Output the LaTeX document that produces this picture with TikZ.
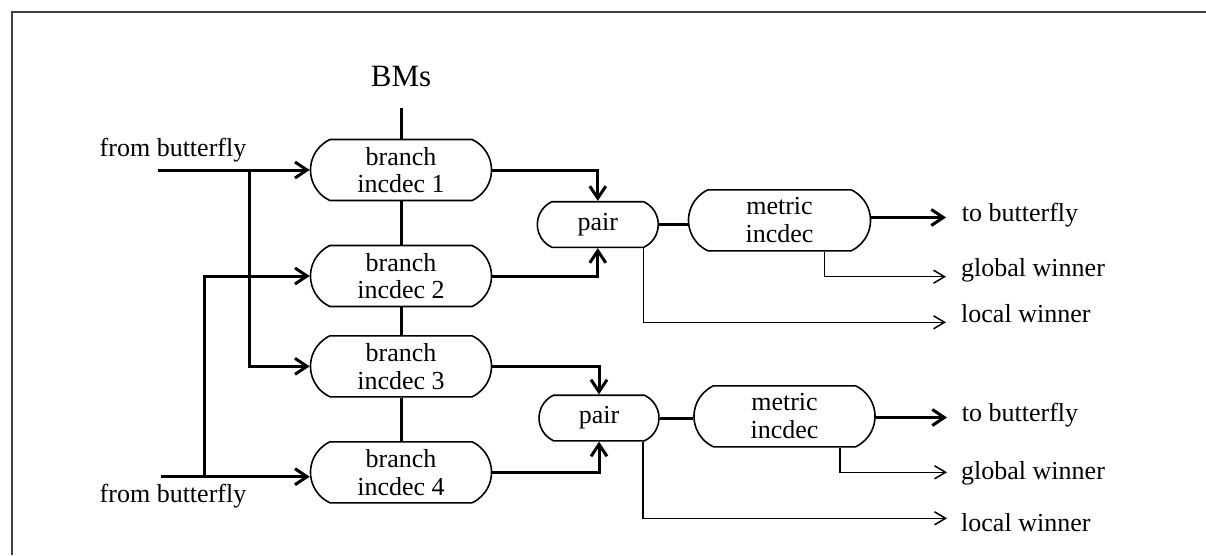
\documentclass[tikz,border=0pt]{standalone}
\usepackage{fontspec}
\setmainfont{Liberation Serif}
\usetikzlibrary{arrows.meta,shapes.misc}
\begin{document}
\begin{tikzpicture}[x=1pt,y=-1pt,
  every node/.style={font=\fontsize{26}{27.7}\selectfont},
  block/.style={draw, line width=1.6pt, rounded rectangle,
    rounded rectangle arc length=130, minimum width=181pt,
    minimum height=61pt, inner sep=0pt, align=center},
  pairbox/.style={block, minimum width=121pt, minimum height=45.6pt},
  bus/.style={line width=3pt},
  busarrow/.style={bus, -{Straight Barb[length=12pt,width=16pt]}},
  flag/.style={line width=1.5pt, -{Straight Barb[length=11pt,width=13pt]}},
  outlabel/.style={anchor=base west, inner sep=0pt},
  inlabel/.style={anchor=base, inner sep=0pt},
]
% canvas and frame
\path[use as bounding box] (0,0) rectangle (1206,555);
\draw[line width=2pt, black!75] (11.5,555) -- (11.5,11.5) -- (1206,11.5);

% branch metric bus
\node[inlabel, font=\fontsize{31}{34}\selectfont] (bms) at (401,86) {BMs};
\coordinate (bmsfoot) at (401,108);

% branch incdec units
\node[block] (b1) at (401,170)   {branch\\incdec 1};
\node[block] (b2) at (401,276)   {branch\\incdec 2};
\node[block] (b3) at (401,366.3) {branch\\incdec 3};
\node[block] (b4) at (401,472.3) {branch\\incdec 4};

% pair units and metric incdec units
\node[pairbox] (p1) at (597.8,224.5) {pair};
\node[pairbox, minimum width=120pt] (p2) at (599,418) {pair};
\node[block, minimum width=182pt] (m1) at (779.5,220.3) {metric\\incdec};
\node[block] (m2) at (784.5,416.3) {metric\\incdec};

% vertical BM bus through the branch units
\draw[bus] (bmsfoot) -- (b1.north);
\draw[bus] (b1.south) -- (b2.north);
\draw[bus] (b2.south) -- (b3.north);
\draw[bus] (b3.south) -- (b4.north);

% inputs from the butterfly
\node[inlabel] (fromtop) at (173,156) {from butterfly};
\node[inlabel] (frombot) at (173,502.8) {from butterfly};
\coordinate (in1) at (158,170);
\coordinate (in2) at (160.7,476.7);
\coordinate (j1) at (249,170);
\coordinate (j2) at (204.7,476.7);
\draw[busarrow] (in1) -- (b1.west);
\draw[busarrow] (j1) |- (b3.west);
\draw[busarrow] (in2) -- (in2 -| b4.west);
\draw[busarrow] (j2) |- (b2.west);

% branch units into pair units
\draw[busarrow] (b1.east) -| (p1.north);
\draw[busarrow] (b2.east) -| (p1.south);
\draw[busarrow] (b3.east) -| (p2.north);
\draw[busarrow] (b4.east) -| (p2.south);

% pair to metric incdec
\draw[bus] (p1.east) -- (p1.east -| m1.west);
\draw[bus] (p2.east) -- (p2.east -| m2.west);

% upper outputs
\coordinate (tb1) at (946,217.5);
\coordinate (gw1) at (946,276.7);
\coordinate (lw1) at (946,322.3);
\draw[busarrow] (m1.east |- tb1) -- (tb1);
\draw[flag] ([xshift=44.8pt]m1.south) |- (gw1);
\draw[flag] ([xshift=45.5pt]p1.south) |- (lw1);
\node[outlabel] (tbl1) at (961.7,221) {to butterfly};
\node[outlabel] (gwl1) at (961,276.7) {global winner};
\node[outlabel] (lwl1) at (961,322) {local winner};

% lower outputs
\coordinate (tb2) at (947,417.5);
\coordinate (gw2) at (947,472.3);
\coordinate (lw2) at (947,518.3);
\draw[busarrow] (m2.east |- tb2) -- (tb2);
\draw[flag] ([xshift=55.5pt]m2.south) |- (gw2);
\draw[flag] ([xshift=44pt]p2.south) |- (lw2);
\node[outlabel] (tbl2) at (961.7,421) {to butterfly};
\node[outlabel] (gwl2) at (961,479) {global winner};
\node[outlabel] (lwl2) at (961,531) {local winner};
\end{tikzpicture}
\end{document}
